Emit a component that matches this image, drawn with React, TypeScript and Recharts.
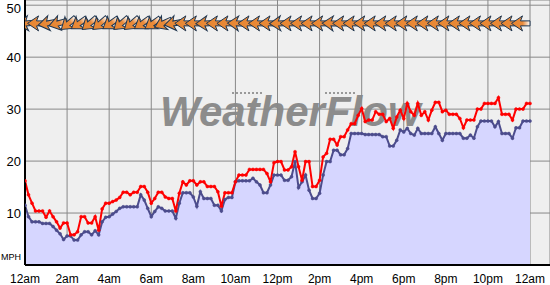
import React from 'react';
import { ComposedChart, Area, Line, Scatter, XAxis, YAxis, CartesianGrid } from 'recharts';

// 10-minute samples, midnight to midnight (145 samples)
const gust: number[] = [
  16.2, 13.5, 11.9, 10.4, 10.4, 10.4, 9.2, 10.4, 9.3, 8.3, 7.1, 8.1, 8.1, 5.8, 5.8, 6.4, 9.3, 9.3, 8.1, 8.1, 9.3, 6.7, 10.8, 11.9, 11.9,
  12.2, 12.5, 13.0, 14.0, 14.0, 13.5, 14.0, 14.0, 15.1, 15.1, 14.0, 11.9, 12.8, 14.0, 14.0, 13.1, 12.8, 12.8, 10.4, 13.8, 16.0, 15.4, 16.2, 16.2,
  15.4, 16.0, 16.0, 15.1, 15.1, 15.1, 14.1, 11.3, 13.9, 13.9, 13.9, 16.0, 17.3, 17.3, 17.3, 18.4, 18.4, 18.4, 18.4, 18.4, 17.6, 16.0, 19.7, 19.9,
  19.9, 18.3, 18.3, 18.9, 21.8, 18.9, 16.3, 19.9, 19.9, 15.1, 15.1, 16.3, 20.8, 21.5, 24.2, 24.2, 23.1, 24.7, 24.7, 26.0, 27.2, 27.2, 28.8, 30.1,
  27.6, 27.9, 27.9, 29.5, 29.0, 29.0, 27.6, 28.2, 26.3, 28.5, 29.8, 28.2, 31.1, 29.5, 28.8, 31.1, 28.8, 29.5, 27.9, 29.8, 31.3, 31.3, 29.5, 29.8,
  29.0, 29.0, 29.0, 28.2, 26.4, 27.9, 27.9, 27.9, 30.0, 30.0, 31.1, 31.1, 31.1, 31.1, 32.2, 29.0, 29.0, 29.0, 27.9, 30.0, 30.0, 30.0, 31.1, 31.1,
];

const avg: number[] = [
  11.5, 9.3, 8.3, 8.3, 8.3, 8.0, 8.0, 8.0, 7.4, 6.7, 6.0, 4.9, 5.6, 5.6, 4.8, 4.8, 5.8, 6.4, 6.4, 5.8, 6.6, 5.8, 8.3, 9.2, 9.3,
  9.8, 10.3, 10.9, 11.2, 11.2, 11.2, 11.2, 11.2, 13.5, 12.5, 10.9, 9.3, 10.3, 11.2, 10.9, 10.4, 10.4, 10.4, 9.0, 11.9, 13.9, 13.9, 13.9, 13.1,
  11.3, 14.1, 12.8, 12.8, 12.8, 11.5, 11.5, 10.4, 12.6, 13.0, 13.0, 16.0, 16.2, 16.2, 16.2, 16.2, 16.7, 16.0, 15.4, 13.9, 13.9, 15.4, 17.3, 17.3,
  17.3, 16.3, 16.3, 17.0, 19.9, 14.9, 16.0, 17.3, 14.4, 12.8, 12.8, 13.8, 17.3, 19.9, 19.9, 22.1, 22.1, 21.2, 21.2, 22.4, 25.3, 25.3, 25.3, 25.3,
  25.1, 25.1, 25.1, 25.1, 25.1, 24.7, 24.7, 22.9, 22.9, 24.0, 26.0, 25.6, 26.3, 25.3, 25.0, 26.3, 25.3, 25.3, 25.3, 25.3, 26.6, 25.3, 24.0, 25.3,
  25.3, 25.3, 25.3, 25.3, 24.4, 24.4, 25.0, 24.4, 26.6, 27.7, 27.7, 27.7, 27.7, 26.6, 27.6, 25.3, 25.3, 25.3, 24.4, 26.4, 26.4, 27.7, 27.7, 27.7,
];

// wind direction (degrees, "from"), every 30 minutes
const windDir: number[] = [
  90, 85, 90, 80, 75, 50, 55, 50, 50, 55, 50, 50, 55, 55, 65, 80,
  90, 90, 88, 90, 90, 92, 90, 90, 90, 88, 90, 90, 90, 90, 92, 90,
  90, 90, 90, 90, 90, 90, 90, 90, 90, 90, 90, 90, 90, 90, 90, 90, 90,
];

const tickHours = [0, 2, 4, 6, 8, 10, 12, 14, 16, 18, 20, 22, 24];
const tickLabels = ['12am', '2am', '4am', '6am', '8am', '10am', '12pm', '2pm', '4pm', '6pm', '8pm', '10pm', '12am'];
const yTicks = [10, 20, 30, 40, 50];
const arrowLevel = 46.5;

const data = gust.map((g, i) => ({ t: i / 6, gust: g, avg: avg[i] }));
const arrows = windDir.map((d, i) => ({ t: i / 2, y: arrowLevel, dir: d }));

const FONT = '"Liberation Sans", Arial, sans-serif';

const Arrow = (props: any) => {
  const { cx, cy, payload } = props;
  if (cx == null || cy == null || !payload) return null;
  const rot = payload.dir - 90;
  return (
    <g transform={`translate(${cx - 9},${cy}) rotate(${rot})`}>
      <path
        d="M-9.5,0 L1.5,-7.5 L-0.5,-2.5 L9,-2.5 L9,2.5 L-0.5,2.5 L1.5,7.5 Z"
        fill="url(#arrowGrad)"
        stroke="#1d3550"
        strokeWidth={1}
        strokeLinejoin="miter"
      />
    </g>
  );
};

const YTick = (props: any) => {
  const { x, y, payload } = props;
  const top = payload.value === yTicks[yTicks.length - 1];
  return (
    <text
      x={x}
      y={y + (top ? 3 : 0)}
      dy="0.355em"
      textAnchor="end"
      fontFamily={FONT}
      fontSize={13}
      fill="#000"
    >
      {payload.value}
    </text>
  );
};

export default function App() {
  return (
    <div style={{ position: 'absolute', left: 0, top: 0, width: 550, height: 285, background: '#fff' }}>
      <svg width={550} height={285} style={{ position: 'absolute', left: 0, top: 0 }}>
        <defs>
          <linearGradient id="arrowGrad" x1="0" y1="0" x2="1" y2="0">
            <stop offset="0" stopColor="#e8862f" />
            <stop offset="0.6" stopColor="#e98a3a" />
            <stop offset="1" stopColor="#ffffff" />
          </linearGradient>
        </defs>
        <rect x={25} y={0} width={525} height={265} fill="#efefef" />
        <line x1={232} y1={93} x2={262} y2={93} stroke="#999" strokeWidth={2} strokeDasharray="2 2" />
        <line x1={325} y1={93} x2={355} y2={93} stroke="#999" strokeWidth={2} strokeDasharray="2 2" />
        <text
          x={160}
          y={126}
          fontFamily={FONT}
          fontWeight="bold"
          fontStyle="italic"
          fontSize={42}
          fill="#8c8c8c"
        >
          WeatherFlow
        </text>
      </svg>
      <ComposedChart
        width={550}
        height={285}
        data={data}
        margin={{ top: 0, right: 0, bottom: 0, left: 0 }}
        style={{ position: 'absolute', left: 0, top: 0 }}
      >
        <CartesianGrid stroke="#888888" strokeWidth={1} fill="none" />
        <XAxis
          type="number"
          dataKey="t"
          domain={[0, 24.95]}
          ticks={tickHours}
          interval={0}
          allowDataOverflow
          height={20}
          tickLine={false}
          tickSize={0}
          tickMargin={9}
          axisLine={{ stroke: '#000', strokeWidth: 2 }}
          tick={{ fill: '#000', fontSize: 12, fontFamily: FONT }}
          tickFormatter={(v: number) => tickLabels[Math.round(v / 2)]}
        />
        <YAxis
          type="number"
          domain={[0, 51]}
          ticks={yTicks}
          interval={0}
          allowDataOverflow
          width={25}
          tickLine={false}
          tickSize={0}
          tickMargin={4}
          axisLine={{ stroke: '#000', strokeWidth: 2 }}
          tick={YTick}
        />
        <Area
          type="linear"
          dataKey="avg"
          stroke="none"
          fill="#d6d6ff"
          fillOpacity={1}
          isAnimationActive={false}
          dot={false}
          activeDot={false}
        />
        <Line
          type="linear"
          dataKey="avg"
          stroke="#4c4c8c"
          strokeWidth={2}
          dot={{ r: 1.5, fill: '#4c4c8c', stroke: '#4c4c8c', strokeWidth: 0.5 }}
          activeDot={false}
          isAnimationActive={false}
        />
        <Line
          type="linear"
          dataKey="gust"
          stroke="#ff0000"
          strokeWidth={2}
          dot={{ r: 1.5, fill: '#ff0000', stroke: '#ff0000', strokeWidth: 0.5 }}
          activeDot={false}
          isAnimationActive={false}
        />
        <Scatter data={arrows} dataKey="y" shape={Arrow} isAnimationActive={false} />
      </ComposedChart>
      <svg width={550} height={285} style={{ position: 'absolute', left: 0, top: 0, pointerEvents: 'none' }}>
        <text x={1} y={260} fontFamily={FONT} fontSize={9} fill="#000">MPH</text>
      </svg>
    </div>
  );
}
